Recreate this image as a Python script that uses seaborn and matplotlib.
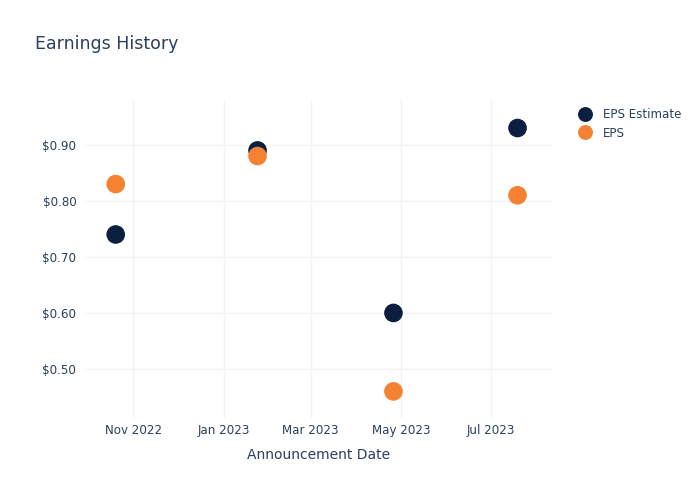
import matplotlib
matplotlib.use("Agg")
import matplotlib.pyplot as plt
import seaborn as sns
import pandas as pd

dates = ["2022-10-20", "2023-01-24", "2023-04-26", "2023-07-19"]
eps_estimate = [0.74, 0.89, 0.60, 0.93]
eps_actual = [0.83, 0.88, 0.46, 0.81]
series_names = ["EPS Estimate", "EPS"]
colors = ["#0b1f41", "#f58233"]
ytick_vals = [0.5, 0.6, 0.7, 0.8, 0.9]
ytick_labels = ["$0.50", "$0.60", "$0.70", "$0.80", "$0.90"]
xtick_dates = ["2022-11-01", "2023-01-01", "2023-03-01", "2023-05-01", "2023-07-01"]
xtick_labels = ["Nov 2022", "Jan 2023", "Mar 2023", "May 2023", "Jul 2023"]

df = pd.DataFrame({
    "date": pd.to_datetime(dates * 2),
    "value": eps_estimate + eps_actual,
    "series": [series_names[0]] * 4 + [series_names[1]] * 4,
})

sns.set_theme(style="white")
plt.rcParams['font.family'] = ['DejaVu Sans']
text_color = "#2a3f5f"

fig = plt.figure(figsize=(7, 5), dpi=100)
ax = fig.add_axes([0.121, 0.164, 0.669, 0.636])
sns.scatterplot(data=df, x="date", y="value", hue="series", hue_order=series_names,
                palette=colors, s=180, edgecolor="none", ax=ax, legend=True, zorder=3)

ax.set_xlim(pd.Timestamp("2022-09-29"), pd.Timestamp("2023-08-12"))
ax.set_ylim(0.4125, 0.98)
ax.set_yticks(ytick_vals)
ax.set_yticklabels(ytick_labels)
ax.set_xticks(pd.to_datetime(xtick_dates))
ax.set_xticklabels(xtick_labels)
ax.grid(True, color="#f3f3f3", linewidth=1)
for s in ax.spines.values():
    s.set_visible(False)
ax.tick_params(axis="x", length=0, labelsize=8.6, colors=text_color, pad=4)
ax.tick_params(axis="y", length=0, labelsize=8.6, colors=text_color, pad=6)
ax.set_xlabel("Announcement Date", fontsize=10, color=text_color, labelpad=8)
ax.set_ylabel("")

leg = ax.legend(loc="upper left", bbox_to_anchor=(1.02, 1.008), frameon=False,
                fontsize=8.6, handletextpad=0.5, labelspacing=0.45, markerscale=0.8)
for t in leg.get_texts():
    t.set_color(text_color)

fig.text(0.05, 0.912, "Earnings History", fontsize=12.5, color=text_color, ha="left", va="center")

fig.savefig("out.png", dpi=100)
